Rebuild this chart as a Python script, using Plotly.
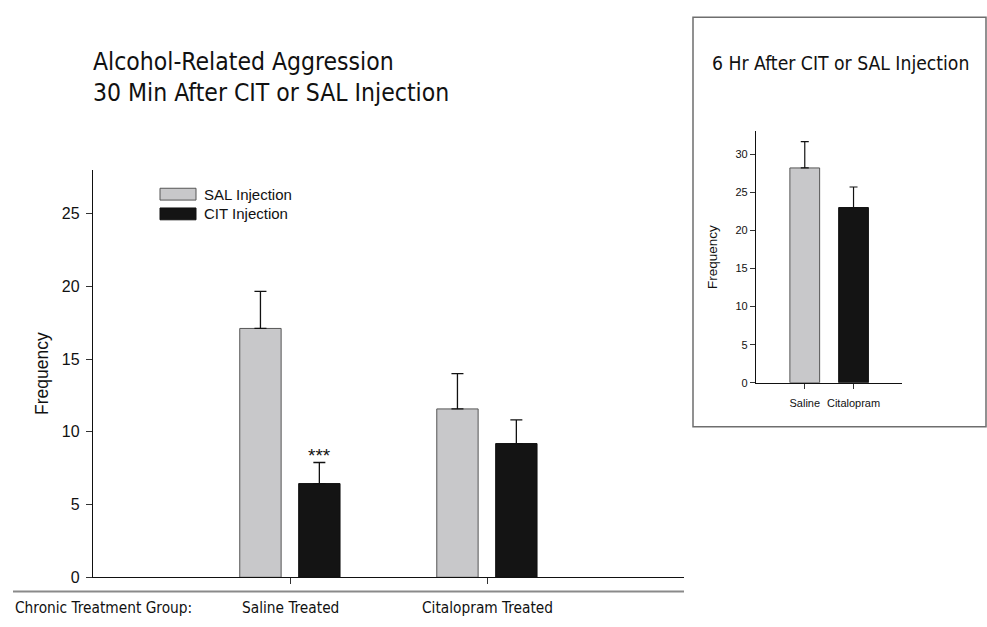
import plotly.graph_objects as go

# Main panel: 30 min after injection
groups = ["Saline Treated", "Citalopram Treated"]
sal_mean = [17.1, 11.57]
sal_sem = [2.55, 2.43]
cit_mean = [6.44, 9.19]
cit_sem = [1.45, 1.63]

# Inset: 6 hr after injection
inset_cats = ["Saline", "Citalopram"]
inset_mean = [28.2, 23.0]
inset_sem = [3.45, 2.7]

W, H = 987, 627
GRAY = "#c8c8ca"
BLACK = "#141414"
ARIAL = "Liberation Sans, Arial, sans-serif"
TAHOMA = "DejaVu Sans Condensed, DejaVu Sans, sans-serif"


def px(x):
    return x / W


def py(y):
    return 1 - y / H


gpos = [1, 2]
fig = go.Figure()

fig.add_trace(go.Bar(
    x=gpos, y=sal_mean, width=0.21, offset=-0.255,
    marker=dict(color=GRAY, line=dict(color="#555555", width=1)),
    error_y=dict(type="data", array=sal_sem, arrayminus=[0, 0], symmetric=False,
                 color="#111111", thickness=1.3, width=6),
    xaxis="x", yaxis="y", showlegend=False,
))
fig.add_trace(go.Bar(
    x=gpos, y=cit_mean, width=0.21, offset=0.044,
    marker=dict(color=BLACK, line=dict(color="#111111", width=1)),
    error_y=dict(type="data", array=cit_sem, arrayminus=[0, 0], symmetric=False,
                 color="#111111", thickness=1.3, width=6),
    xaxis="x", yaxis="y", showlegend=False,
))

ipos = [1, 2]
fig.add_trace(go.Bar(
    x=ipos, y=inset_mean, width=0.61,
    marker=dict(color=[GRAY, BLACK], line=dict(color=["#555555", "#111111"], width=1)),
    error_y=dict(type="data", array=inset_sem, arrayminus=[0, 0], symmetric=False,
                 color="#111111", thickness=1.2, width=4),
    xaxis="x2", yaxis="y2", showlegend=False,
))

fig.update_layout(
    width=W, height=H,
    margin=dict(l=0, r=0, t=0, b=0),
    paper_bgcolor="white", plot_bgcolor="white",
    font=dict(family=ARIAL, color="#111111"),
    barmode="overlay",
    xaxis=dict(domain=[px(93), px(684)], range=[0, 3], anchor="y",
               tickvals=gpos, ticktext=["", ""], ticks="outside", ticklen=6,
               tickcolor="#333", showline=True, linecolor="#111", linewidth=1.4,
               showgrid=False, zeroline=False),
    yaxis=dict(domain=[py(585.7), py(172.3)], range=[0, 28], anchor="x",
               tickvals=[0, 5, 10, 15, 20, 25], ticks="outside", ticklen=6,
               tickcolor="#333", tickfont=dict(size=16, family=ARIAL),
               ticklabelstandoff=3,
               showline=True, linecolor="#111", linewidth=1.4, showgrid=False,
               zeroline=False,
               title=dict(text="Frequency", font=dict(size=17.5, family=ARIAL), standoff=8)),
    xaxis2=dict(domain=[px(756), px(902.3)], range=[0, 3], anchor="y2",
                tickvals=ipos, ticktext=inset_cats, ticks="outside", ticklen=5,
                tickcolor="#333", tickfont=dict(size=11, family=ARIAL),
                ticklabelstandoff=5,
                showline=True, linecolor="#111", linewidth=1.2,
                showgrid=False, zeroline=False),
    yaxis2=dict(domain=[py(388.3), py(133.3)], range=[0, 33], anchor="x2",
                tickvals=[0, 5, 10, 15, 20, 25, 30], ticks="outside", ticklen=5,
                tickcolor="#333", tickfont=dict(size=11, family=ARIAL),
                showline=True, linecolor="#111", linewidth=1.2, showgrid=False,
                zeroline=False,
                title=dict(text="Frequency", font=dict(size=13.5, family=ARIAL), standoff=14)),
)

shapes = [
    # separator under the main axis
    dict(type="line", xref="paper", yref="paper", x0=px(13), x1=px(684),
         y0=py(600), y1=py(600), line=dict(color="#8a8a8a", width=2)),
    # inset frame
    dict(type="rect", xref="paper", yref="paper", x0=px(693), x1=px(986),
         y0=py(433), y1=py(17.5), line=dict(color="#6e6e6e", width=1.5)),
    # legend swatches
    dict(type="rect", xref="paper", yref="paper", x0=px(160), x1=px(196),
         y0=py(203), y1=py(191), fillcolor=GRAY, line=dict(color="#555555", width=1)),
    dict(type="rect", xref="paper", yref="paper", x0=px(160), x1=px(196),
         y0=py(223), y1=py(211), fillcolor=BLACK, line=dict(color="#111111", width=1)),
]

annotations = [
    dict(text="Alcohol-Related Aggression", xref="paper", yref="paper",
         x=px(91), y=py(62), xanchor="left", yanchor="middle", showarrow=False,
         font=dict(size=24.5, family=TAHOMA, color="#111")),
    dict(text="30 Min After CIT or SAL Injection", xref="paper", yref="paper",
         x=px(91), y=py(94), xanchor="left", yanchor="middle", showarrow=False,
         font=dict(size=24.5, family=TAHOMA, color="#111")),
    dict(text="6 Hr After CIT or SAL Injection", xref="paper", yref="paper",
         x=px(710), y=py(64), xanchor="left", yanchor="middle", showarrow=False,
         font=dict(size=19.2, family=TAHOMA, color="#111")),
    dict(text="SAL Injection", xref="paper", yref="paper", x=px(202), y=py(197),
         xanchor="left", yanchor="middle", showarrow=False,
         font=dict(size=15, family=ARIAL)),
    dict(text="CIT Injection", xref="paper", yref="paper", x=px(202), y=py(217),
         xanchor="left", yanchor="middle", showarrow=False,
         font=dict(size=15, family=ARIAL)),
    dict(text="***", xref="x", yref="y", x=gpos[0] + 0.149,
         y=cit_mean[0] + cit_sem[0], xanchor="center", yanchor="bottom",
         yshift=-6, showarrow=False, font=dict(size=19, family=ARIAL)),
    dict(text="Chronic Treatment Group:", xref="paper", yref="paper",
         x=px(13), y=py(617), xanchor="left", yanchor="middle", showarrow=False,
         font=dict(size=15.3, family=TAHOMA, color="#111")),
]
for g, name in zip(gpos, groups):
    annotations.append(dict(text=name, xref="x", yref="paper", x=g, y=py(617),
                            xanchor="center", yanchor="middle", showarrow=False,
                            font=dict(size=15.3, family=TAHOMA, color="#111")))

fig.update_layout(shapes=shapes, annotations=annotations)
fig.write_html("out.html")
